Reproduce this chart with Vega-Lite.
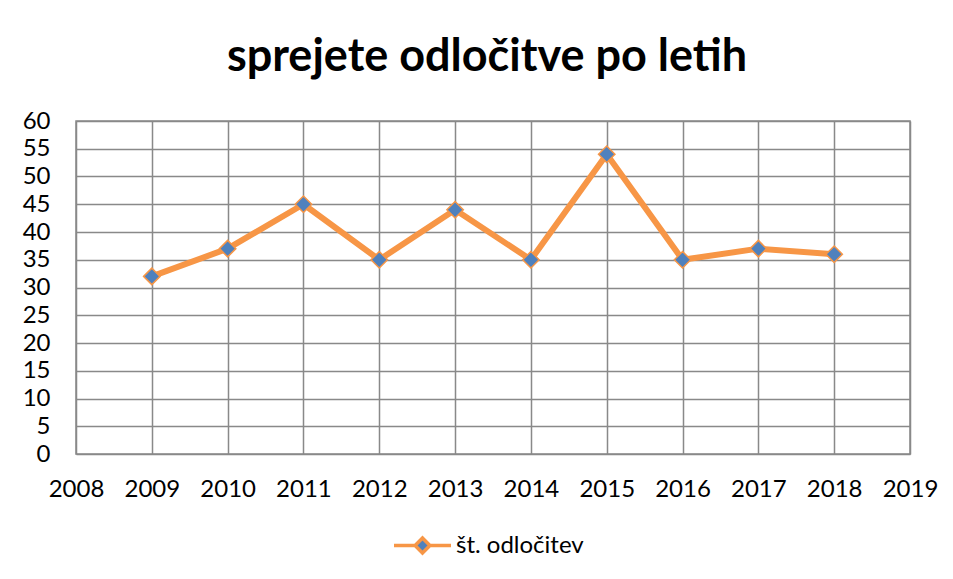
{
  "$schema": "https://vega.github.io/schema/vega-lite/v6.json",
  "autosize": {"type": "none"},
  "padding": {"left": 76, "top": 121, "right": 43, "bottom": 125},
  "width": 834,
  "height": 333,
  "background": "white",
  "title": {
    "text": "sprejete odločitve po letih",
    "font": "Lato",
    "fontSize": 45,
    "fontWeight": "bold",
    "color": "#000000",
    "anchor": "middle",
    "baseline": "alphabetic",
    "offset": 43,
    "dy": 50,
    "dx": -6
  },
  "config": {
    "font": "Lato",
    "view": {"stroke": "#898989", "strokeWidth": 1.5},
    "axis": {
      "labelFont": "Lato",
      "labelFontSize": 24,
      "labelColor": "#000000",
      "grid": true,
      "gridColor": "#898989",
      "gridWidth": 1.5,
      "domain": false,
      "ticks": false,
      "title": null
    }
  },
  "data": {
    "values": [
      {"year": 2009, "value": 32, "series": "št. odločitev"},
      {"year": 2010, "value": 37, "series": "št. odločitev"},
      {"year": 2011, "value": 45, "series": "št. odločitev"},
      {"year": 2012, "value": 35, "series": "št. odločitev"},
      {"year": 2013, "value": 44, "series": "št. odločitev"},
      {"year": 2014, "value": 35, "series": "št. odločitev"},
      {"year": 2015, "value": 54, "series": "št. odločitev"},
      {"year": 2016, "value": 35, "series": "št. odločitev"},
      {"year": 2017, "value": 37, "series": "št. odločitev"},
      {"year": 2018, "value": 36, "series": "št. odločitev"}
    ]
  },
  "encoding": {
    "x": {
      "field": "year",
      "type": "quantitative",
      "scale": {"domain": [2008, 2019], "nice": false, "zero": false},
      "axis": {
        "values": [2008, 2009, 2010, 2011, 2012, 2013, 2014, 2015, 2016, 2017, 2018, 2019],
        "format": "d",
        "labelPadding": 23,
        "labelFlush": false,
        "labelOverlap": false
      }
    },
    "y": {
      "field": "value",
      "type": "quantitative",
      "scale": {"domain": [0, 60], "nice": false},
      "axis": {
        "values": [0, 5, 10, 15, 20, 25, 30, 35, 40, 45, 50, 55, 60],
        "labelPadding": 26,
        "labelOverlap": false
      }
    }
  },
  "layer": [
    {
      "mark": {"type": "line", "stroke": "#F79646", "strokeWidth": 6, "strokeCap": "round", "strokeJoin": "round"}
    },
    {
      "mark": {"type": "point", "shape": "diamond", "filled": true, "size": 270, "stroke": "#F79646", "strokeWidth": 1.5, "opacity": 1},
      "encoding": {
        "color": {
          "field": "series",
          "type": "nominal",
          "scale": {"domain": ["št. odločitev"], "range": ["#4F81BD"]},
          "legend": {
            "title": null,
            "orient": "none",
            "legendX": 316,
            "legendY": 394,
            "padding": 0,
            "labelFont": "Lato",
            "labelFontSize": 24,
            "labelColor": "#000000",
            "labelOffset": 3,
            "symbolSize": 3249,
            "symbolType": "M-1,0H-0.26M0.26,0H1M0,-0.26L0.26,0L0,0.26L-0.26,0Z",
            "symbolFillColor": "#4F81BD",
            "symbolStrokeColor": "#F79646",
            "symbolStrokeWidth": 3.5,
            "symbolOpacity": 1
          }
        }
      }
    }
  ]
}
